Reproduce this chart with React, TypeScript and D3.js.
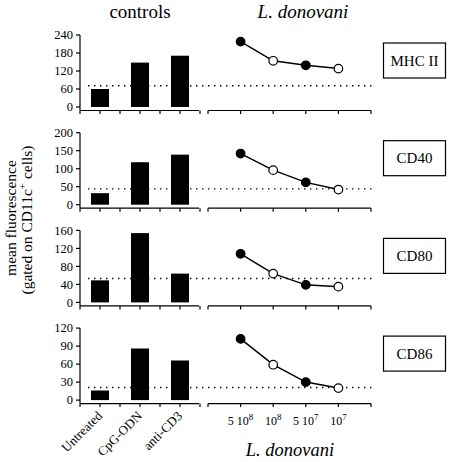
import React from "react";
import * as d3 from "d3";

const categories = ["Untreated", "CpG-ODN", "anti-CD3"];
const doses = ["5e8", "1e8", "5e7", "1e7"];
const doseLabels = [
  { base: "5 10", exp: "8" },
  { base: "10", exp: "8" },
  { base: "5 10", exp: "7" },
  { base: "10", exp: "7" },
];
const markers = ["MHC II", "CD40", "CD80", "CD86"];
const yMax = [240, 200, 160, 120];
const yTicks = [
  [0, 60, 120, 180, 240],
  [0, 50, 100, 150, 200],
  [0, 40, 80, 120, 160],
  [0, 30, 60, 90, 120],
];
const controlValues = [
  [60, 148, 171],
  [32, 118, 139],
  [49, 154, 64],
  [16, 86, 66],
];
const donovaniValues = [
  [218, 154, 139, 128],
  [142, 96, 62, 42],
  [108, 64, 39, 35],
  [102, 59, 30, 20],
];
const baselines = [71, 44, 53, 21];
const filled = [true, false, true, false];

const FONT = "Liberation Serif";

export default function App() {
  const xBar = d3.scalePoint<string>().domain(categories).range([80, 200]).padding(0.5);
  const xDose = d3.scalePoint<string>().domain(doses).range([208, 371]).padding(1);
  const barStep = xBar.step();
  const doseStep = xDose.step();
  const barW = 18;

  const panels = markers.map((m, i) => {
    const zero = 107 + i * 97.7;
    const y = d3.scaleLinear().domain([0, yMax[i]]).range([zero, zero - 72]);
    const axisY = zero + 3.5;
    const line = d3
      .line<number>()
      .x((_, j) => xDose(doses[j]) as number)
      .y((v) => y(v));
    const barTicks = d3.range(0, categories.length * 2 + 1).map((k) => 80 + (k * barStep) / 2);
    const doseTicks = d3.range(0, doses.length + 2).map((k) => 208 + k * doseStep);
    const boxY = zero - 64;
    return (
      <g key={m}>
        <line x1={80} x2={80} y1={y(yMax[i])} y2={axisY} stroke="#000" strokeWidth={1.2} />
        {yTicks[i].map((t) => (
          <g key={t}>
            <line x1={76} x2={80} y1={y(t)} y2={y(t)} stroke="#000" strokeWidth={1.2} />
            <text x={73} y={y(t)} dy="0.35em" textAnchor="end" fontSize={12.5}>
              {t}
            </text>
          </g>
        ))}
        <line x1={80} x2={199} y1={axisY} y2={axisY} stroke="#000" strokeWidth={1.2} />
        {barTicks.map((t, k) => (
          <line key={k} x1={t} x2={t} y1={axisY} y2={axisY + 3.5} stroke="#000" strokeWidth={1.2} />
        ))}
        {controlValues[i].map((v, j) => (
          <rect
            key={j}
            x={(xBar(categories[j]) as number) - barW / 2}
            y={y(v)}
            width={barW}
            height={zero - y(v)}
            fill="#000"
          />
        ))}
        <line x1={208} x2={371} y1={axisY} y2={axisY} stroke="#000" strokeWidth={1.2} />
        {doseTicks.map((t, k) => (
          <line key={k} x1={t} x2={t} y1={axisY} y2={axisY + 3.5} stroke="#000" strokeWidth={1.2} />
        ))}
        <line
          x1={88}
          x2={375}
          y1={y(baselines[i])}
          y2={y(baselines[i])}
          stroke="#000"
          strokeWidth={1.4}
          strokeDasharray="1.4,4.6"
        />
        <path d={line(donovaniValues[i]) || ""} fill="none" stroke="#000" strokeWidth={1.5} />
        {donovaniValues[i].map((v, j) => (
          <circle
            key={j}
            cx={xDose(doses[j]) as number}
            cy={y(v)}
            r={4.3}
            fill={filled[j] ? "#000" : "#fff"}
            stroke="#000"
            strokeWidth={1.2}
          />
        ))}
        <rect x={383.5} y={boxY} width={62} height={35} fill="#fff" stroke="#000" strokeWidth={1.2} />
        <text x={414.5} y={boxY + 17.5} dy="0.35em" textAnchor="middle" fontSize={15}>
          {m}
        </text>
      </g>
    );
  });

  const lastAxisY = 107 + 3 * 97.7 + 3.5;

  return (
    <svg
      width={460}
      height={462}
      fontFamily={FONT}
      style={{ position: "absolute", left: 0, top: 0, background: "#fff" }}
    >
      <rect x={0} y={0} width={460} height={462} fill="#fff" />
      <text x={140} y={18} textAnchor="middle" fontSize={19}>
        controls
      </text>
      <text x={303} y={18} textAnchor="middle" fontSize={19} fontStyle="italic">
        L. donovani
      </text>
      {panels}
      {categories.map((c) => (
        <text
          key={c}
          transform={`translate(${(xBar(c) as number) + 3},${lastAxisY + 13}) rotate(-45)`}
          textAnchor="end"
          fontSize={13}
        >
          {c}
        </text>
      ))}
      {doses.map((d, j) => (
        <text key={d} x={xDose(d) as number} y={lastAxisY + 21} textAnchor="middle" fontSize={12}>
          {doseLabels[j].base}
          <tspan dy={-5} fontSize={9}>
            {doseLabels[j].exp}
          </tspan>
        </text>
      ))}
      <text x={290} y={456} textAnchor="middle" fontSize={18.5} fontStyle="italic">
        L. donovani
      </text>
      <text transform="translate(16,218) rotate(-90)" textAnchor="middle" fontSize={15.5}>
        mean fluorescence
      </text>
      <text transform="translate(32,220) rotate(-90)" textAnchor="middle" fontSize={15.5}>
        (gated on CD11c
        <tspan dy={-6} fontSize={11}>
          +
        </tspan>
        <tspan dy={6}> cells)</tspan>
      </text>
    </svg>
  );
}
